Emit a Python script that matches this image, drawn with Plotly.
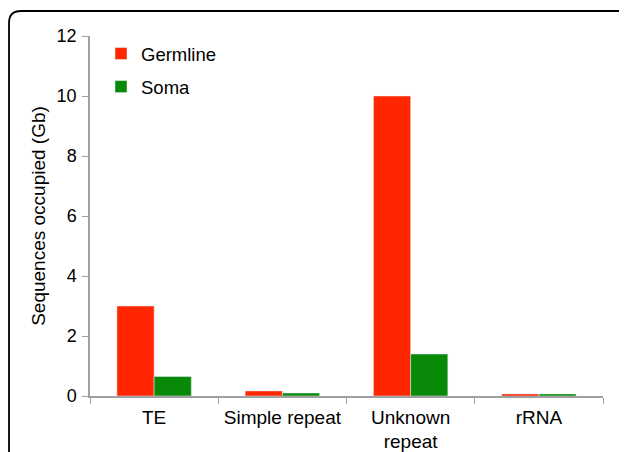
import plotly.graph_objects as go

categories = ["TE", "Simple repeat", "Unknown<br>repeat", "rRNA"]
germline = [3.0, 0.17, 10.0, 0.07]
soma = [0.65, 0.1, 1.4, 0.07]
y_ticks = [0, 2, 4, 6, 8, 10, 12]

RED = "#ff2600"
GREEN = "#088a08"
AXIS = "#a0a0a0"

fig = go.Figure()
fig.add_trace(go.Bar(x=categories, y=germline, name="Germline", marker_color=RED,
                     legendgroup="g"))
fig.add_trace(go.Bar(x=categories, y=soma, name="Soma", marker_color=GREEN,
                     legendgroup="s"))

# page body adds an 8px offset, so the figure is 619x444 and starts at (8, 8)
OFF = 8
W, H = 627 - OFF, 452 - OFF
# plot area in window pixels: x 90..603, y 36..396
L, R, T, B = 90 - OFF, 627 - 603, 36 - OFF, 452 - 396
pw, ph = W - L - R, H - T - B


def px(x):
    return (x - OFF - L) / pw


def py(y):
    return (H - B - (y - OFF)) / ph


# rounded frame around the figure (top-left corner only visible)
x0, y0, rad = 9, 11, 12
frame = (
    f"M {px(x0)} {py(470)} L {px(x0)} {py(y0 + rad)} "
    f"Q {px(x0)} {py(y0)} {px(x0 + rad)} {py(y0)} L {px(660)} {py(y0)}"
)

fig.update_layout(
    width=W,
    height=H,
    margin=dict(l=L, r=R, t=T, b=B),
    paper_bgcolor="white",
    plot_bgcolor="white",
    font=dict(family="Liberation Sans, Arial, sans-serif", color="black", size=16),
    barmode="group",
    bargap=0.42,
    bargroupgap=0,
    showlegend=True,
    legend=dict(
        x=px(101), y=py(35), xanchor="left", yanchor="top",
        font=dict(size=18.5), traceorder="grouped", tracegroupgap=6,
        bgcolor="rgba(0,0,0,0)",
    ),
    xaxis=dict(
        showline=True, linecolor=AXIS, linewidth=1.5,
        ticks="outside", tickcolor=AXIS, ticklen=6,
        tickson="boundaries", tickfont=dict(size=19),
        ticklabelstandoff=3, showgrid=False, automargin=False,
    ),
    yaxis=dict(
        title=dict(text="Sequences occupied (Gb)", font=dict(size=19), standoff=6),
        range=[0, 12], tickvals=y_ticks,
        showline=True, linecolor=AXIS, linewidth=1.5,
        ticks="outside", tickcolor=AXIS, ticklen=6,
        tickfont=dict(size=18), ticklabelstandoff=2,
        showgrid=False, zeroline=False, automargin=False,
    ),
    shapes=[
        dict(type="path", xref="paper", yref="paper", path=frame,
             line=dict(color="black", width=1.8), layer="above"),
    ],
)

fig.write_html("out.html")
